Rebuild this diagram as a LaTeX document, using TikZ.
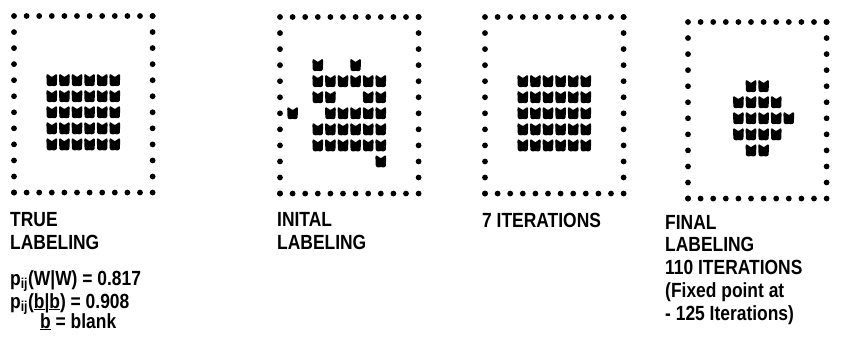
\documentclass[tikz,border=0pt]{standalone}
\usepackage{fontspec}
\setmainfont{Liberation Sans}[FakeStretch=0.85]
\begin{document}
\begin{tikzpicture}[x=1pt,y=-1pt,declare function={dx=12.6;dy=16.05;},
	lab/.style={anchor=base west,inner sep=0pt,align=left,font=\fontsize{20.5}{22.5}\selectfont\bfseries},
	wcell/.pic={\fill[rounded corners=0.8pt] (-5.4,-4.6)--(-4.8,-6.4)--(-1.8,-4.4)--(0,-3.2)--(1.8,-4.4)--(4.8,-6.4)--(5.4,-4.6)
		--(5,5)--(2.4,6.2)--(0,5.4)--(-2.4,6.2)--(-5,5)--cycle;}]
	\useasboundingbox (0,0) rectangle (848,358);
	% dotted frames
	\foreach \ox/\oy in {14/16,280/17,485/17,688/22}{
		\begin{scope}[shift={(\ox,\oy)}]
			\foreach \i in {0,...,11}{
				\fill (\i*dx,0) circle (2.9) (\i*dx,11*dy) circle (2.9)
				(0,\i*dy) circle (2.9) (11*dx,\i*dy) circle (2.9);
			}
		\end{scope}
	}
	% true labeling
	\begin{scope}[shift={(14,16)}]
		\foreach \r in {4,...,8}\foreach \c in {3,...,8}{\pic at (\c*dx,\r*dy) {wcell};}
	\end{scope}
	% inital labeling
	\begin{scope}[shift={(280,17)}]
		\foreach \r/\cs in {3/{3,6},4/{3,...,8},5/{3,4,7,8},6/{1,4,5,6,7,8},7/{3,...,8},8/{3,...,8},9/{8}}{
			\foreach \c in \cs {\pic at (\c*dx,\r*dy) {wcell};}
		}
	\end{scope}
	% 7 iterations
	\begin{scope}[shift={(485,17)}]
		\foreach \r in {4,...,8}\foreach \c in {3,...,8}{\pic at (\c*dx,\r*dy) {wcell};}
	\end{scope}
	% final labeling
	\begin{scope}[shift={(688,22)}]
		\foreach \r/\cs in {4/{5,6},5/{4,...,7},6/{4,...,8},7/{4,...,7},8/{5,6}}{
			\foreach \c in \cs {\pic at (\c*dx,\r*dy) {wcell};}
		}
	\end{scope}
	% captions (base = last line)
	\node[lab] (true) at (10,249) {TRUE\\LABELING};
	\node[lab] (pww) at (10,285) {p\textsubscript{ij}(W|W) = 0.817};
	\node[lab] (pbb) at (10,308) {p\textsubscript{ij}(\underline{b}|\underline{b}) = 0.908};
	\node[lab] (blank) at (40,328) {\underline{b} = blank};
	\node[lab] (init) at (277,249) {INITAL\\LABELING};
	\node[lab] (seven) at (482,227) {7 ITERATIONS};
	\node[lab] (final) at (665,274) {FINAL\\LABELING\\110 ITERATIONS};
	\node[lab] (fixed) at (665,320) {(Fixed point at\\- 125 Iterations)};
\end{tikzpicture}
\end{document}
